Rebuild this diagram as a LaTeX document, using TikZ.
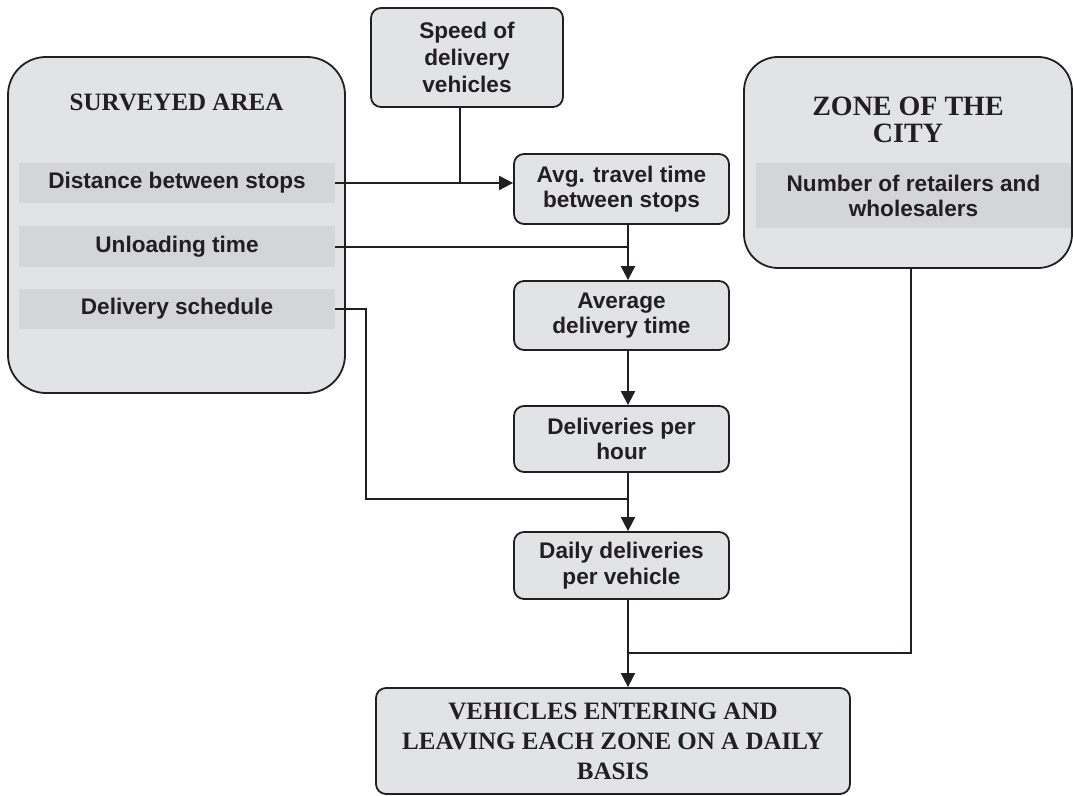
\documentclass[tikz,border=0pt]{standalone}
\usepackage{fontspec}
\setmainfont{Liberation Serif}
\newfontfamily\arial{Liberation Sans}
\usetikzlibrary{arrows.meta,positioning}
\definecolor{boxgray}{RGB}{226,227,229}
\definecolor{bargray}{RGB}{212,213,215}
\definecolor{ink}{RGB}{35,31,32}
\tikzset{
box/.style={rectangle,rounded corners=5pt,draw=ink,line width=0.9pt,fill=boxgray,align=center,text=ink,font=\arial\bfseries\fontsize{11.3}{12.8}\selectfont,inner sep=0pt},
bigbox/.style={rectangle,rounded corners=19pt,draw=ink,line width=0.9pt,fill=boxgray,inner sep=0pt},
bar/.style={rectangle,fill=bargray,align=center,text=ink,font=\arial\bfseries\fontsize{11.3}{12.5}\selectfont,inner sep=0pt},
title/.style={align=center,text=ink,font=\bfseries\fontsize{12.5}{15}\selectfont,inner sep=0pt},
arr/.style={draw=ink,line width=1pt,-{Triangle[length=7pt,width=7pt]}},
wire/.style={draw=ink,line width=0.75pt}
}
\begin{document}
\begin{tikzpicture}[x=0.5pt,y=-0.5pt]
\useasboundingbox (0,0) rectangle (1073,796);
\node[bigbox,minimum width=168.5pt,minimum height=168pt] (survey) at (176.5,225) {};
\node[title] (surveyT) at (176.5,102) {SURVEYED AREA};
\node[bar,minimum width=158pt,minimum height=20pt] (dist) at (177,183) {Distance between stops};
\node[bar,minimum width=158pt,minimum height=20.5pt] (unload) at (177,247) {Unloading time};
\node[bar,minimum width=158pt,minimum height=20pt] (sched) at (177,309) {Delivery schedule};
\node[bigbox,rounded corners=17pt,minimum width=164pt,minimum height=105.5pt] (zone) at (908,162.5) {};
\node[title,font=\bfseries\fontsize{14}{12}\selectfont] (zoneT) at (908,120) {ZONE OF THE\\[1.5pt]CITY};
\node[bar,minimum width=157.5pt,minimum height=32.5pt] (retail) at (913.5,195.5) {Number of retailers and\\wholesalers};
\node[box,minimum width=96pt,minimum height=49.5pt,font=\arial\bfseries\fontsize{11.3}{13.2}\selectfont] (speed) at (467,57.5) {\raisebox{-2pt}{\shortstack{Speed of\\delivery\\vehicles}}};
\node[box,minimum width=107.5pt,minimum height=35pt] (avgtravel) at (621.5,189) {Avg. travel time\\between stops};
\node[box,minimum width=107.5pt,minimum height=34.5pt] (avgdel) at (621.5,315.5) {Average\\delivery time};
\node[box,minimum width=107.5pt,minimum height=33pt] (perhour) at (621.5,439) {Deliveries per\\hour};
\node[box,minimum width=107.5pt,minimum height=33.5pt] (daily) at (621.5,565.5) {Daily deliveries\\per vehicle};
\node[box,minimum width=237pt,minimum height=53pt,font=\bfseries\fontsize{12.5}{15}\selectfont] (result) at (613,741) {VEHICLES ENTERING AND\\LEAVING EACH ZONE ON A DAILY\\BASIS};
\coordinate (spine) at (628,0);
\coordinate (jspeed) at (460,183);
\coordinate (jsched) at (366,499);
\coordinate (jzone) at (911,653);
\draw[arr] (dist.east) -- (dist.east -| avgtravel.west);
\draw[wire] (speed.south -| jspeed) -- (jspeed);
\draw[arr] (avgtravel.south -| spine) -- (avgdel.north -| spine);
\draw[wire] (unload.east) -- (unload.east -| spine);
\draw[arr] (avgdel.south -| spine) -- (perhour.north -| spine);
\draw[wire] (sched.east) -| (jsched) -- (jsched -| spine);
\draw[arr] (perhour.south -| spine) -- (daily.north -| spine);
\draw[wire] (zone.south -| jzone) -- (jzone) -- (jzone -| spine);
\draw[arr] (daily.south -| spine) -- (result.north -| spine);
\end{tikzpicture}
\end{document}
